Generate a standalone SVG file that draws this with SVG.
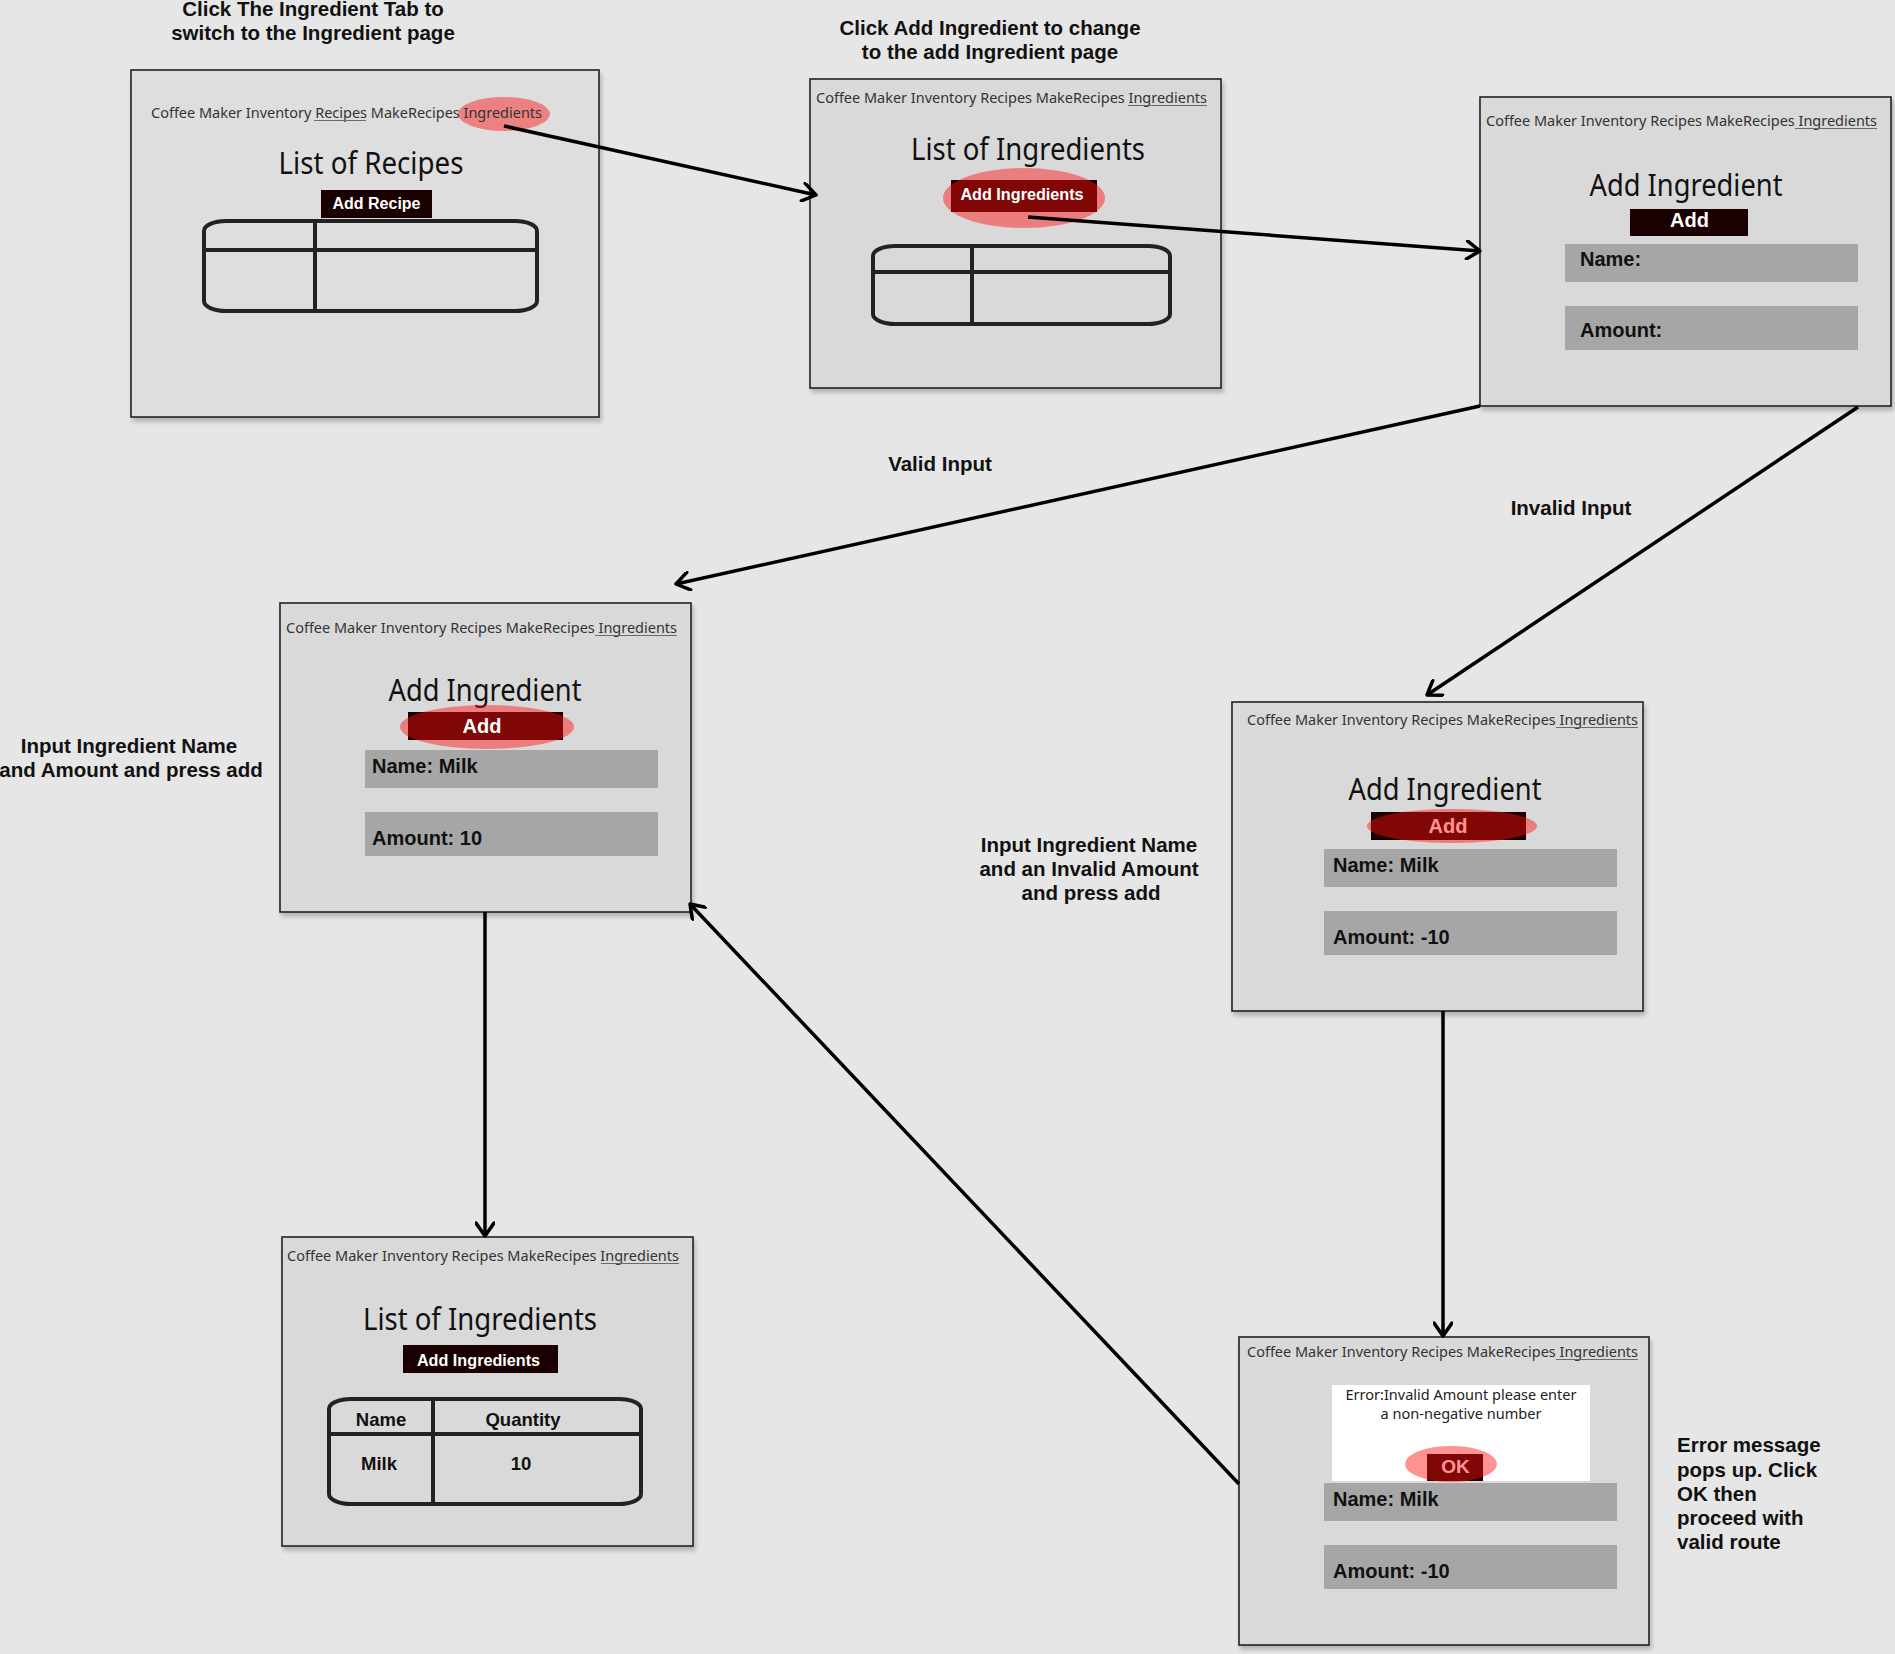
<svg xmlns="http://www.w3.org/2000/svg" width="1895" height="1654" viewBox="0 0 1895 1654">
<style>
.frame{fill:#d9d9d9;stroke:#222;stroke-width:1.6}
.nav{font-family:"Noto Sans","Open Sans",sans-serif;font-size:15px;fill:#333}
.uline{stroke:#6a6a6a;stroke-width:1.2}
.title{font-family:"Noto Sans","Open Sans",sans-serif;font-size:30px;fill:#111;text-anchor:middle}
.btn{fill:#1a0000}
.btxt{font-family:"Liberation Sans",Arial,sans-serif;font-weight:bold;fill:#fff;text-anchor:middle}
.hl{fill:#ff1010;fill-opacity:0.45}
.field{fill:#a6a6a6}
.ftxt{font-family:"Liberation Sans",Arial,sans-serif;font-weight:bold;font-size:20px;fill:#111}
.tbl{fill:none;stroke:#222;stroke-width:4}
.ttxt{font-family:"Liberation Sans",Arial,sans-serif;font-weight:bold;font-size:18.5px;fill:#111;text-anchor:middle}
.lbl{font-family:"Liberation Sans",Arial,sans-serif;font-weight:bold;font-size:20.5px;fill:#111}
.mid{text-anchor:middle}
.conn{fill:none;stroke:#000;stroke-width:3.5;marker-end:url(#arr)}
.err{font-family:"Noto Sans","Open Sans",sans-serif;font-size:15px;fill:#222;text-anchor:middle}
</style>
<defs>
<filter id="sh" x="-5%" y="-5%" width="112%" height="115%">
<feDropShadow dx="2" dy="4" stdDeviation="2" flood-color="#000" flood-opacity="0.22"/>
</filter>
<marker id="arr" viewBox="0 0 20 20" refX="16" refY="10" markerWidth="20" markerHeight="20" markerUnits="userSpaceOnUse" orient="auto">
<path d="M3,1 L16,10 L3,19" fill="none" stroke="#000" stroke-width="3.5" stroke-linecap="round" stroke-linejoin="round"/>
</marker>
</defs>
<rect width="1895" height="1654" fill="#e6e6e6"/>

<g id="labels">
<text class="lbl mid" x="313" y="16">Click The Ingredient Tab to</text>
<text class="lbl mid" x="313" y="40">switch to the Ingredient page</text>
<text class="lbl mid" x="990" y="35">Click Add Ingredient to change</text>
<text class="lbl mid" x="990" y="59">to the add Ingredient page</text>
<text class="lbl mid" x="940" y="471">Valid Input</text>
<text class="lbl mid" x="1571" y="515">Invalid Input</text>
<text class="lbl mid" x="129" y="753">Input Ingredient Name</text>
<text class="lbl mid" x="131" y="777">and Amount and press add</text>
<text class="lbl mid" x="1089" y="852">Input Ingredient Name</text>
<text class="lbl mid" x="1089" y="876">and an Invalid Amount</text>
<text class="lbl mid" x="1091" y="900">and press add</text>
<text class="lbl" x="1677" y="1452">Error message</text>
<text class="lbl" x="1677" y="1477">pops up. Click</text>
<text class="lbl" x="1677" y="1501">OK then</text>
<text class="lbl" x="1677" y="1525">proceed with</text>
<text class="lbl" x="1677" y="1549">valid route</text>
</g>

<g id="recipes-page">
<rect class="frame" x="131" y="70" width="468" height="347" style="fill:#dedede" filter="url(#sh)"/>
<ellipse class="hl" cx="504" cy="114" rx="46" ry="17"/>
<text class="nav" x="151" y="118" textLength="391" lengthAdjust="spacingAndGlyphs">Coffee Maker Inventory Recipes MakeRecipes Ingredients</text>
<line class="uline" x1="314" y1="120.5" x2="366" y2="120.5"/>
<text class="title" x="371" y="174" textLength="185" lengthAdjust="spacingAndGlyphs">List of Recipes</text>
<rect class="btn" x="321" y="190" width="111" height="28"/>
<text class="btxt" x="376.5" y="209" font-size="16">Add Recipe</text>
<rect class="tbl" x="204" y="221" width="333" height="90" rx="22" ry="10"/>
<line class="tbl" x1="204" y1="250" x2="537" y2="250"/>
<line class="tbl" x1="315" y1="221" x2="315" y2="311"/>
</g>

<g id="ingredients-list-page">
<rect class="frame" x="810" y="79" width="411" height="309" filter="url(#sh)"/>
<text class="nav" x="816" y="103" textLength="391" lengthAdjust="spacingAndGlyphs">Coffee Maker Inventory Recipes MakeRecipes Ingredients</text>
<line class="uline" x1="1128" y1="105.5" x2="1207" y2="105.5"/>
<text class="title" x="1028" y="160" textLength="234" lengthAdjust="spacingAndGlyphs">List of Ingredients</text>
<rect class="btn" x="951" y="180" width="146" height="32"/>
<ellipse class="hl" cx="1024" cy="198" rx="81" ry="30"/>
<text class="btxt" x="1022" y="200" font-size="16.2">Add Ingredients</text>
<rect class="tbl" x="873" y="246" width="297" height="78" rx="22" ry="10"/>
<line class="tbl" x1="873" y1="272" x2="1170" y2="272"/>
<line class="tbl" x1="972" y1="246" x2="972" y2="324"/>
</g>

<g id="add-ingredient-page">
<rect class="frame" x="1480" y="97" width="411" height="309" filter="url(#sh)"/>
<text class="nav" x="1486" y="126" textLength="391" lengthAdjust="spacingAndGlyphs">Coffee Maker Inventory Recipes MakeRecipes Ingredients</text>
<line class="uline" x1="1795" y1="128.5" x2="1877" y2="128.5"/>
<text class="title" x="1686" y="196" textLength="193" lengthAdjust="spacingAndGlyphs">Add Ingredient</text>
<rect class="btn" x="1630" y="209" width="118" height="27"/>
<text class="btxt" x="1689.5" y="227" font-size="20">Add</text>
<rect class="field" x="1565" y="244" width="293" height="38"/>
<text class="ftxt" x="1580" y="266">Name:</text>
<rect class="field" x="1565" y="306" width="293" height="44"/>
<text class="ftxt" x="1580" y="337">Amount:</text>
</g>

<g id="valid-input-page">
<rect class="frame" x="280" y="603" width="411" height="309" filter="url(#sh)"/>
<text class="nav" x="286" y="633" textLength="391" lengthAdjust="spacingAndGlyphs">Coffee Maker Inventory Recipes MakeRecipes Ingredients</text>
<line class="uline" x1="595" y1="635.5" x2="677" y2="635.5"/>
<text class="title" x="485" y="701" textLength="193" lengthAdjust="spacingAndGlyphs">Add Ingredient</text>
<rect class="btn" x="408" y="712" width="155" height="28"/>
<ellipse class="hl" cx="487" cy="727" rx="87" ry="22"/>
<text class="btxt" x="482" y="733" font-size="20">Add</text>
<rect class="field" x="365" y="750" width="293" height="38"/>
<text class="ftxt" x="372" y="773">Name: Milk</text>
<rect class="field" x="365" y="812" width="293" height="44"/>
<text class="ftxt" x="372" y="845">Amount: 10</text>
</g>

<g id="invalid-input-page">
<rect class="frame" x="1232" y="702" width="411" height="309" filter="url(#sh)"/>
<text class="nav" x="1247" y="725" textLength="391" lengthAdjust="spacingAndGlyphs">Coffee Maker Inventory Recipes MakeRecipes Ingredients</text>
<line class="uline" x1="1556" y1="727.5" x2="1638" y2="727.5"/>
<text class="title" x="1445" y="800" textLength="193" lengthAdjust="spacingAndGlyphs">Add Ingredient</text>
<rect class="btn" x="1371" y="812" width="155" height="28"/>
<text class="btxt" x="1448" y="833" font-size="20">Add</text>
<ellipse class="hl" cx="1452" cy="826" rx="85" ry="17"/>
<rect class="field" x="1324" y="849" width="293" height="38"/>
<text class="ftxt" x="1333" y="872">Name: Milk</text>
<rect class="field" x="1324" y="911" width="293" height="44"/>
<text class="ftxt" x="1333" y="944">Amount: -10</text>
</g>

<g id="updated-list-page">
<rect class="frame" x="282" y="1237" width="411" height="309" filter="url(#sh)"/>
<text class="nav" x="287" y="1261" textLength="392" lengthAdjust="spacingAndGlyphs">Coffee Maker Inventory Recipes MakeRecipes Ingredients</text>
<line class="uline" x1="601" y1="1263.5" x2="679" y2="1263.5"/>
<text class="title" x="480" y="1330" textLength="234" lengthAdjust="spacingAndGlyphs">List of Ingredients</text>
<rect class="btn" x="403" y="1345" width="155" height="28"/>
<text class="btxt" x="478.5" y="1366" font-size="16.2">Add Ingredients</text>
<rect class="tbl" x="329" y="1399" width="312" height="105" rx="22" ry="10"/>
<line class="tbl" x1="329" y1="1434" x2="641" y2="1434"/>
<line class="tbl" x1="433" y1="1399" x2="433" y2="1504"/>
<text class="ttxt" x="381" y="1426">Name</text>
<text class="ttxt" x="523" y="1426">Quantity</text>
<text class="ttxt" x="379" y="1470">Milk</text>
<text class="ttxt" x="521" y="1470">10</text>
</g>

<g id="error-page">
<rect class="frame" x="1239" y="1337" width="410" height="308" filter="url(#sh)"/>
<text class="nav" x="1247" y="1357" textLength="391" lengthAdjust="spacingAndGlyphs">Coffee Maker Inventory Recipes MakeRecipes Ingredients</text>
<line class="uline" x1="1556" y1="1359.5" x2="1638" y2="1359.5"/>
<rect x="1332" y="1385" width="258" height="96" fill="#fff"/>
<text class="err" x="1461" y="1400" textLength="231" lengthAdjust="spacingAndGlyphs">Error:Invalid Amount please enter</text>
<text class="err" x="1461" y="1419" textLength="161" lengthAdjust="spacingAndGlyphs">a non-negative number</text>
<rect class="btn" x="1427" y="1454" width="56" height="27"/>
<text class="btxt" x="1455.5" y="1473" font-size="19">OK</text>
<ellipse class="hl" cx="1451" cy="1464" rx="46" ry="18"/>
<rect class="field" x="1324" y="1483" width="293" height="38"/>
<text class="ftxt" x="1333" y="1506">Name: Milk</text>
<rect class="field" x="1324" y="1545" width="293" height="44"/>
<text class="ftxt" x="1333" y="1578">Amount: -10</text>
</g>

<g id="connectors">
<path class="conn" d="M504,126 L816,195"/>
<path class="conn" d="M1028,217 L1480,251"/>
<path class="conn" d="M1480,406 L676,584"/>
<path class="conn" d="M1858,407 L1427,695"/>
<path class="conn" d="M485,912 L485,1236"/>
<path class="conn" d="M1443,1011 L1443,1336"/>
<path class="conn" d="M1239,1484 L690,904"/>
</g>
</svg>
